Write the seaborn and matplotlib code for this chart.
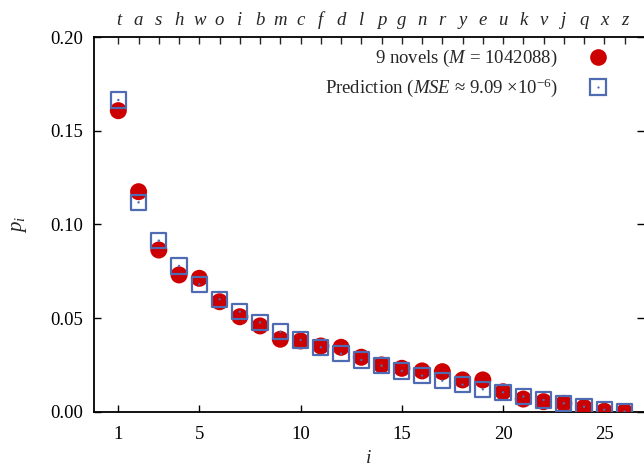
import numpy as np
import pandas as pd
import matplotlib
matplotlib.use('Agg')
import matplotlib.pyplot as plt
from matplotlib.lines import Line2D
import seaborn as sns

# rank i, first letters (top axis), observed and predicted p_i
ranks = list(range(1, 27))
letters = ['t', 'a', 's', 'h', 'w', 'o', 'i', 'b', 'm', 'c', 'f', 'd', 'l',
           'p', 'g', 'n', 'r', 'y', 'e', 'u', 'k', 'v', 'j', 'q', 'x', 'z']
novels = [0.1607, 0.1175, 0.0864, 0.0731, 0.0713, 0.0588, 0.0508, 0.0459, 0.0388,
          0.0379, 0.0352, 0.0345, 0.0292, 0.0251, 0.0233, 0.0219, 0.0215, 0.0171,
          0.0171, 0.0108, 0.0069, 0.0055, 0.0046, 0.0024, 0.0004, 0.0001]
prediction = [0.1664, 0.1118, 0.0914, 0.0779, 0.0681, 0.0601, 0.0535, 0.0478, 0.0428,
              0.0384, 0.0345, 0.0311, 0.0277, 0.0247, 0.0219, 0.0194, 0.0167, 0.0146,
              0.0121, 0.0105, 0.0082, 0.0064, 0.0046, 0.0028, 0.0012, 0.0002]

df = pd.DataFrame({'i': ranks, 'novels': novels, 'prediction': prediction})

sns.set_style('ticks')
plt.rcParams['font.family'] = ['Liberation Serif', 'DejaVu Serif']
plt.rcParams['mathtext.fontset'] = 'custom'
plt.rcParams['mathtext.rm'] = 'Liberation Serif'
plt.rcParams['mathtext.it'] = 'Liberation Serif:italic'

red = '#cc0000'
blue = '#4f6cb3'

fig = plt.figure(figsize=(6.44, 4.66), dpi=100)
ax = fig.add_axes([0.146, 0.1159, 0.854, 0.8047])

sns.scatterplot(data=df, x='i', y='novels', ax=ax, color=red, s=150,
                marker='o', edgecolor='none', zorder=3)
sns.scatterplot(data=df, x='i', y='prediction', ax=ax, facecolor='none',
                edgecolor=blue, s=120, marker='s', linewidth=1.6, zorder=4)
sns.scatterplot(data=df, x='i', y='prediction', ax=ax, color=blue, s=3,
                edgecolor='none', zorder=5)

ax.set_xlim(-0.2, 26.96)
ax.set_ylim(0, 0.2)
ax.set_xticks([1, 5, 10, 15, 20, 25])
ax.set_yticks([0, 0.05, 0.10, 0.15, 0.20])
ax.set_yticklabels(['0.00', '0.05', '0.10', '0.15', '0.20'])
ax.tick_params(direction='in', length=5, width=1, labelsize=13.5, colors='black',
               right=True, pad=8)
ax.tick_params(axis='x', pad=10)
for s in ['left', 'bottom', 'top']:
    ax.spines[s].set_linewidth(1.3)
    ax.spines[s].set_color('black')
ax.spines['right'].set_visible(False)

ax.set_xlabel('i', fontstyle='italic', fontsize=14, labelpad=5)
ax.set_ylabel('$p_i$', fontsize=15, labelpad=15)

top = ax.secondary_xaxis('top')
top.set_xticks(ranks)
top.set_xticklabels(letters, fontstyle='italic', fontsize=13.5)
top.tick_params(direction='in', length=5, width=1, pad=6)
top.spines['top'].set_visible(False)

h1 = Line2D([], [], linestyle='none', marker='o', markersize=12,
            markerfacecolor=red, markeredgecolor='none')
h2a = Line2D([], [], linestyle='none', marker='s', markersize=11,
             markerfacecolor='none', markeredgecolor=blue, markeredgewidth=1.6)
h2b = Line2D([], [], linestyle='none', marker='o', markersize=1.6,
             markerfacecolor=blue, markeredgecolor='none')
ax.legend([h1, (h2a, h2b)],
          ['9 novels ($M$ = 1042088)',
           'Prediction ($MSE$ ≈ 9.09 ×10$^{\\mathregular{-6}}$)'],
          loc='upper right', bbox_to_anchor=(0.968, 1.015), frameon=False,
          markerfirst=False, fontsize=13.5, handletextpad=1.55,
          labelspacing=0.4, handlelength=1.2)

fig.savefig('out.png', dpi=100)
